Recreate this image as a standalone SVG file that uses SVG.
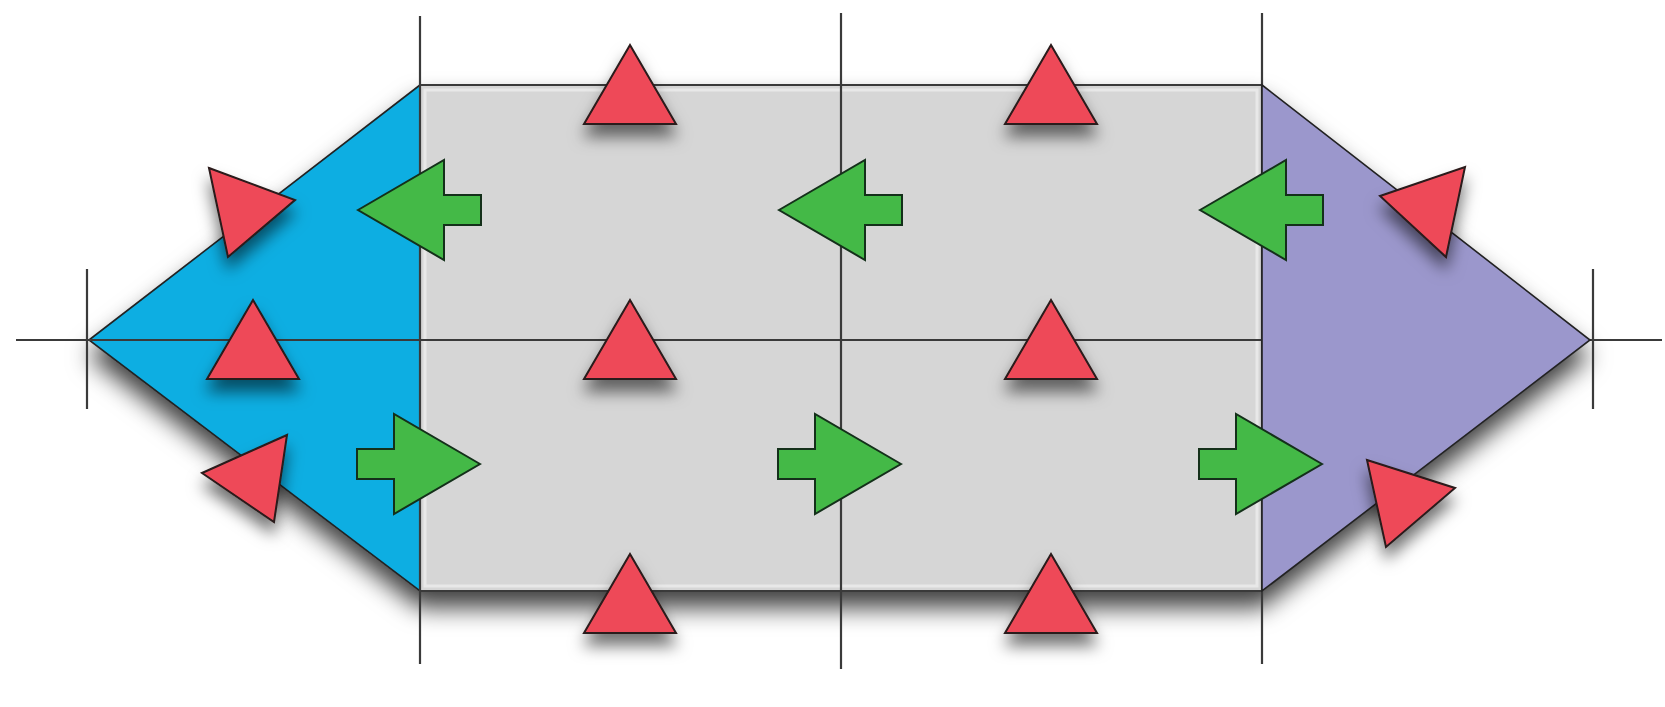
<svg xmlns="http://www.w3.org/2000/svg" width="1665" height="707" viewBox="0 0 1665 707">
<defs>
<filter id="sh" x="-20%" y="-20%" width="140%" height="160%">
<feDropShadow dx="0" dy="16" stdDeviation="12" flood-color="#000" flood-opacity="0.75"/>
</filter>
<filter id="sh2" x="-50%" y="-50%" width="200%" height="220%">
<feDropShadow dx="0" dy="12" stdDeviation="8" flood-color="#000" flood-opacity="0.55"/>
</filter>
<path id="tri" d="M0,-40 L46,39 L-46,39 Z"/>
<path id="larr" d="M0,0 L86,-50 L86,-15 L123,-15 L123,15 L86,15 L86,50 Z"/>
<path id="rarr" d="M0,0 L-86,-50 L-86,-15 L-123,-15 L-123,15 L-86,15 L-86,50 Z"/>
</defs>
<style>
.ln{stroke:#3a3a3a;stroke-width:2.2;fill:none}
.red{fill:#ee4a59;stroke:#2a1a1a;stroke-width:2;stroke-linejoin:miter}
.grn{fill:#44b947;stroke:#14301a;stroke-width:2;stroke-linejoin:miter}
.edge{stroke:#222;stroke-width:1.6}
</style>
<rect width="1665" height="707" fill="#ffffff"/>
<g id="body" filter="url(#sh)">
<polygon id="blue" class="edge" points="89,340 420,85 420,591" fill="#0aaee2"/>
<rect id="grey" class="edge" x="420" y="85" width="842" height="506" fill="#d6d6d6"/>
<polygon id="purple-back" points="1262,85 1590,340 1262,591" fill="#9b97cc"/>
</g>
<rect x="425" y="90" width="832" height="496" fill="none" stroke="#e8e8e8" stroke-width="3"/>
<g id="connectors">
<line class="ln" x1="16" y1="340" x2="1262" y2="340"/>
<line class="ln" x1="1590" y1="340" x2="1662" y2="340"/>
<line class="ln" x1="420" y1="16" x2="420" y2="664"/>
<line class="ln" x1="841" y1="13" x2="841" y2="669"/>
<line class="ln" x1="1262" y1="13" x2="1262" y2="664"/>
<line class="ln" x1="87" y1="269" x2="87" y2="409"/>
<line class="ln" x1="1593" y1="269" x2="1593" y2="409"/>
<line class="ln" x1="420" y1="85" x2="1262" y2="85"/>
<line class="ln" x1="420" y1="591" x2="1262" y2="591"/>
</g>
<g id="purple"><polygon class="edge" points="1262,85 1590,340 1262,591" fill="#9b97cc"/></g>
<g id="red-triangles">
<g id="t1" filter="url(#sh2)"><use href="#tri" class="red" x="630" y="85"/></g>
<g id="t2" filter="url(#sh2)"><use href="#tri" class="red" x="1051" y="85"/></g>
<g id="t3" filter="url(#sh2)"><use href="#tri" class="red" x="253" y="340"/></g>
<g id="t4" filter="url(#sh2)"><use href="#tri" class="red" x="630" y="340"/></g>
<g id="t5" filter="url(#sh2)"><use href="#tri" class="red" x="1051" y="340"/></g>
<g id="t6" filter="url(#sh2)"><use href="#tri" class="red" x="630" y="594"/></g>
<g id="t7" filter="url(#sh2)"><use href="#tri" class="red" x="1051" y="594"/></g>
<g id="t8" filter="url(#sh2)"><polygon class="red" points="209,168 295,200 228,257"/></g>
<g id="t9" filter="url(#sh2)"><polygon class="red" points="202,473 287,435 274,522"/></g>
<g id="t10" filter="url(#sh2)"><polygon class="red" points="1380,196 1465,167 1446,257"/></g>
<g id="t11" filter="url(#sh2)"><polygon class="red" points="1367,460 1455,488 1386,547"/></g>
</g>
<g id="green-arrows">
<g id="a1"><use href="#larr" class="grn" x="358" y="210"/></g>
<g id="a2"><use href="#larr" class="grn" x="779" y="210"/></g>
<g id="a3"><use href="#larr" class="grn" x="1200" y="210"/></g>
<g id="a4"><use href="#rarr" class="grn" x="480" y="464"/></g>
<g id="a5"><use href="#rarr" class="grn" x="901" y="464"/></g>
<g id="a6"><use href="#rarr" class="grn" x="1322" y="464"/></g>
</g>
</svg>
